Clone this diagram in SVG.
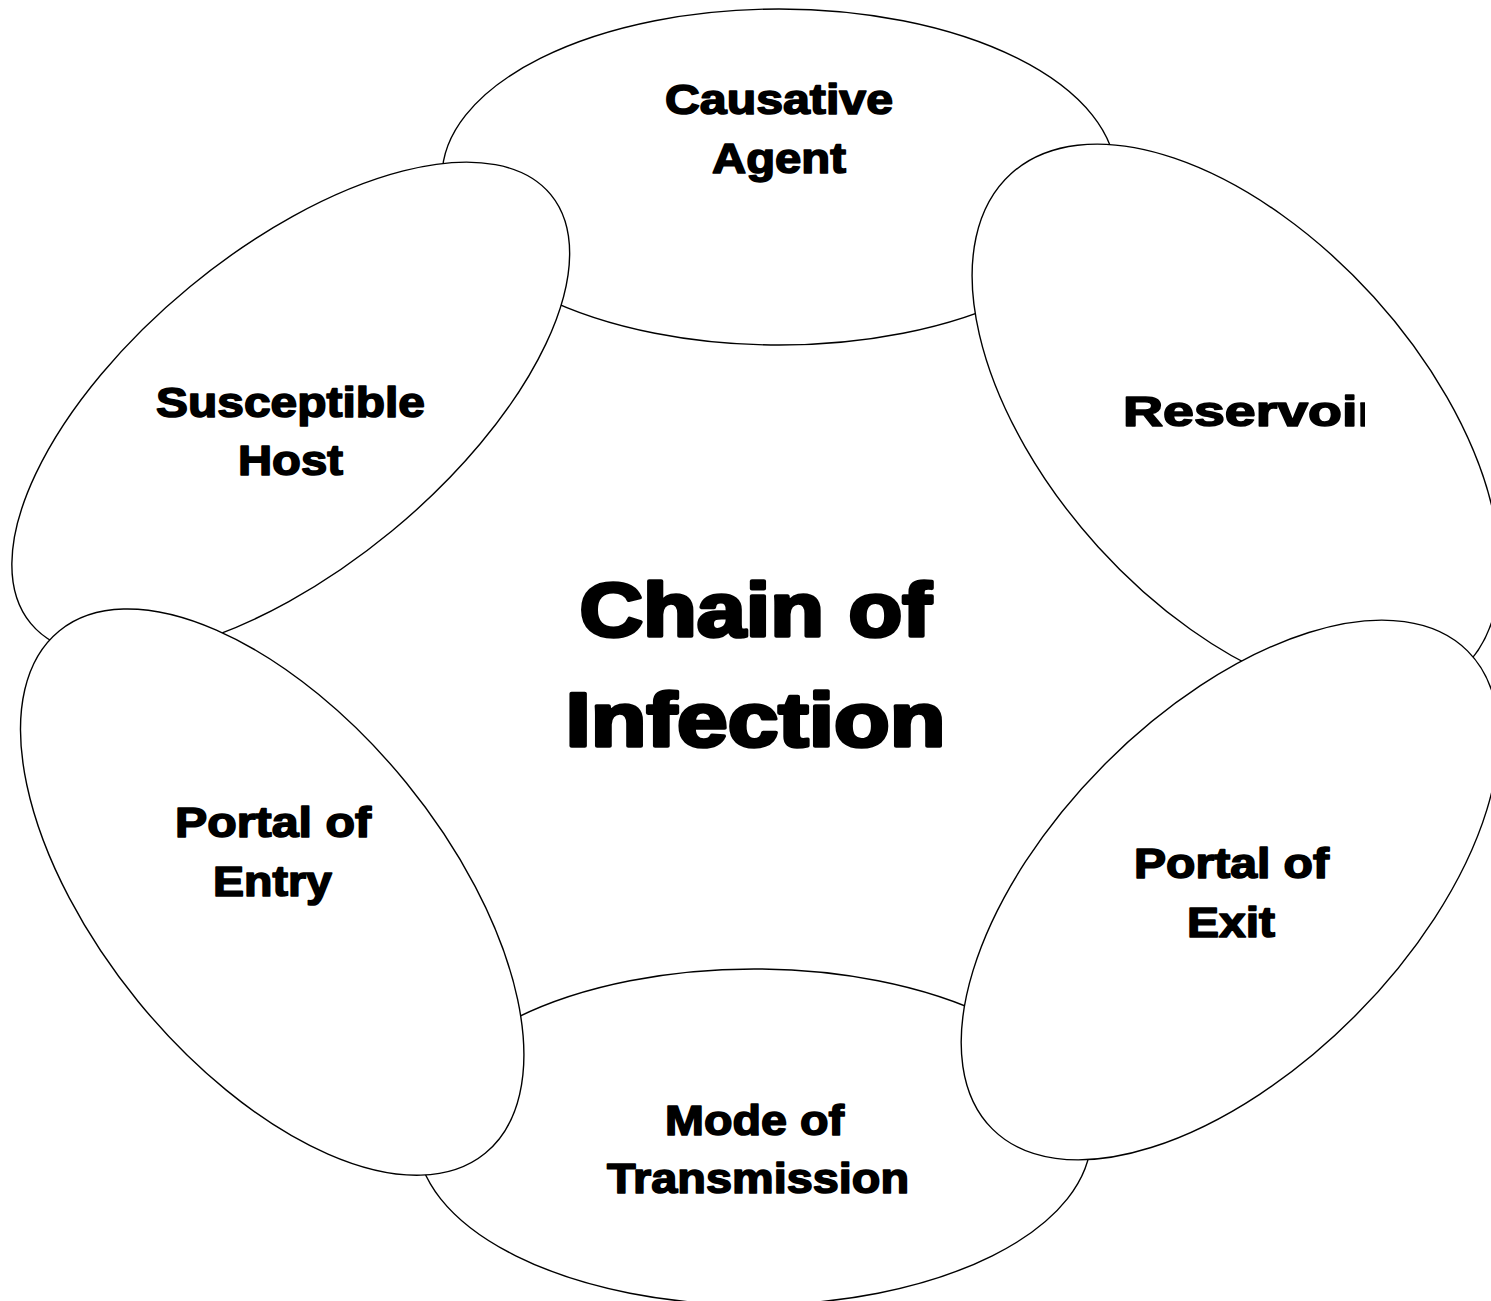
<svg xmlns="http://www.w3.org/2000/svg" width="1491" height="1301" viewBox="0 0 1491 1301">
<style>
.node{fill:#fff;stroke:#000;stroke-width:1.4}
.lbl{font-family:"Liberation Sans",Arial,sans-serif;font-weight:bold;font-size:42px;fill:#000;stroke:#000;stroke-width:1.6;stroke-linejoin:round;text-anchor:middle}
.title{font-family:"Liberation Sans",Arial,sans-serif;font-weight:bold;font-size:76px;fill:#000;stroke:#000;stroke-width:3.6;stroke-linejoin:round;text-anchor:middle}
</style>
<defs>
<clipPath id="resclip"><rect x="1000" y="360" width="365" height="90"/></clipPath>
</defs>
<rect width="1491" height="1301" fill="#fff"/>
<g id="causative-agent">
<ellipse class="node" cx="779" cy="177" rx="337" ry="168"/>
<text class="lbl" x="779" y="114" textLength="228" lengthAdjust="spacingAndGlyphs">Causative</text>
<text class="lbl" x="779" y="173" textLength="134" lengthAdjust="spacingAndGlyphs">Agent</text>
</g>
<g id="mode-of-transmission">
<ellipse class="node" cx="754" cy="1137" rx="337" ry="168"/>
<text class="lbl" x="754.5" y="1135" textLength="179" lengthAdjust="spacingAndGlyphs">Mode of</text>
<text class="lbl" x="758" y="1193" textLength="302" lengthAdjust="spacingAndGlyphs">Transmission</text>
</g>
<g id="reservoir">
<ellipse class="node" cx="1236" cy="422" rx="335" ry="186" transform="rotate(47.8 1236 422)"/>
<text class="lbl" x="1123" y="426" style="text-anchor:start" textLength="256" lengthAdjust="spacingAndGlyphs" clip-path="url(#resclip)">Reservoir</text>
</g>
<g id="susceptible-host">
<ellipse class="node" cx="290.75" cy="409" rx="337" ry="158.5" transform="rotate(-39.5 290.75 409)"/>
<text class="lbl" x="290.5" y="417" textLength="269" lengthAdjust="spacingAndGlyphs">Susceptible</text>
<text class="lbl" x="290.5" y="475" textLength="105" lengthAdjust="spacingAndGlyphs">Host</text>
</g>
<g id="portal-of-exit">
<ellipse class="node" cx="1230" cy="890" rx="337" ry="177.5" transform="rotate(-45.2 1230 890)"/>
<text class="lbl" x="1231.5" y="878" textLength="195" lengthAdjust="spacingAndGlyphs">Portal of</text>
<text class="lbl" x="1231" y="937" textLength="88" lengthAdjust="spacingAndGlyphs">Exit</text>
</g>
<g id="portal-of-entry">
<ellipse class="node" cx="272.2" cy="892.1" rx="337" ry="173" transform="rotate(50.8 272.2 892.1)"/>
<text class="lbl" x="273" y="837" textLength="196" lengthAdjust="spacingAndGlyphs">Portal of</text>
<text class="lbl" x="272.5" y="896" textLength="119" lengthAdjust="spacingAndGlyphs">Entry</text>
</g>
<g id="connectors"></g>
<g id="title">
<text class="title" x="755.5" y="636" textLength="352" lengthAdjust="spacingAndGlyphs">Chain of</text>
<text class="title" x="755.5" y="746" textLength="380" lengthAdjust="spacingAndGlyphs">Infection</text>
</g>
</svg>
